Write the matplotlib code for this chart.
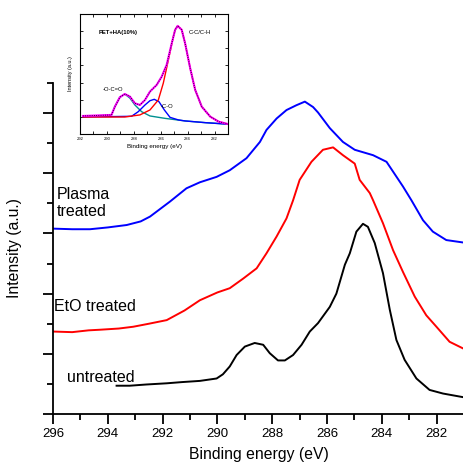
import matplotlib.pyplot as plt
from matplotlib.ticker import MultipleLocator

plt.rcParams["font.family"] = ["Liberation Sans", "DejaVu Sans"]

# Main spectra (binding energy in eV, intensity in arbitrary offset units)
untreated_x = [293.68, 293.2, 292.6, 291.85, 291.3, 290.64, 290.03, 289.80, 289.55, 289.30,
               289.0, 288.64, 288.33, 288.09, 287.79, 287.54, 287.24, 286.93, 286.63,
               286.33, 285.90, 285.66, 285.35, 285.17, 284.93, 284.69, 284.51, 284.26,
               283.96, 283.71, 283.47, 283.17, 282.74, 282.26, 281.77, 281.04]
untreated_y = [0.47, 0.47, 0.49, 0.51, 0.53, 0.55, 0.59, 0.66, 0.79, 0.98,
               1.12, 1.18, 1.15, 1.01, 0.89, 0.89, 0.98, 1.15, 1.37,
               1.51, 1.78, 2.00, 2.48, 2.67, 3.03, 3.16, 3.11, 2.84,
               2.34, 1.73, 1.23, 0.90, 0.59, 0.40, 0.34, 0.28]

eto_x = [296.0, 295.3, 294.7, 294.29, 293.6, 293.07, 292.5, 291.85, 291.2, 290.64,
         290.0, 289.55, 289.06, 288.57, 288.21, 287.84, 287.48, 287.24, 287.0, 286.57,
         286.15, 285.78, 285.42, 284.99, 284.81, 284.44, 284.32, 283.96, 283.59,
         283.23, 282.80, 282.38, 282.01, 281.53, 281.04]
eto_y = [1.37, 1.36, 1.39, 1.40, 1.42, 1.45, 1.50, 1.56, 1.72, 1.89,
         2.02, 2.09, 2.25, 2.42, 2.67, 2.95, 3.25, 3.55, 3.89, 4.19,
         4.39, 4.43, 4.30, 4.16, 3.89, 3.67, 3.55, 3.17, 2.72,
         2.36, 1.95, 1.64, 1.45, 1.20, 1.09]

plasma_x = [296.0, 295.3, 294.65, 294.0, 293.31, 292.8, 292.46, 291.73, 291.13, 290.64,
            290.03, 289.55, 288.94, 288.45, 288.21, 287.84, 287.48, 287.12, 286.81,
            286.51, 286.33, 285.90, 285.42, 284.99, 284.32, 283.83, 283.23, 282.92,
            282.50, 282.14, 281.65, 281.04]
plasma_y = [3.08, 3.07, 3.07, 3.10, 3.14, 3.20, 3.28, 3.53, 3.75, 3.85,
            3.94, 4.05, 4.25, 4.52, 4.72, 4.91, 5.05, 5.13, 5.19,
            5.10, 5.01, 4.75, 4.52, 4.39, 4.30, 4.19, 3.78, 3.55,
            3.22, 3.03, 2.89, 2.85]

# Inset: C1s fit of PET+HA(10%)
fit_x = [291.78, 289.66, 289.41, 289.04, 288.67, 288.29, 287.92, 287.55, 287.17, 286.80,
         286.30, 285.93, 285.56, 285.18, 284.93, 284.74, 284.44, 284.19, 283.81, 283.44,
         282.95, 282.32, 281.70, 280.96]
fit_y = [1.05, 1.11, 1.59, 2.14, 2.33, 2.18, 1.79, 1.69, 1.98, 2.47,
         2.86, 3.34, 4.03, 5.29, 6.07, 6.30, 6.07, 5.29, 3.83, 2.57,
         1.59, 1.01, 0.72, 0.57]

cc_x = [291.78, 288.67, 287.55, 286.80, 286.18, 285.81, 285.43, 285.06, 284.93, 284.74,
        284.44, 284.19, 283.81, 283.44, 282.95, 282.32, 281.70, 280.96]
cc_y = [0.99, 0.99, 1.11, 1.40, 1.98, 2.96, 4.32, 5.68, 6.07, 6.30,
        6.07, 5.29, 3.83, 2.57, 1.59, 1.01, 0.72, 0.57]

co_x = [291.78, 288.17, 287.67, 287.17, 286.80, 286.48, 286.13, 285.73, 285.31, 284.69,
        284.19, 282.69, 280.96]
co_y = [0.99, 1.03, 1.30, 1.69, 1.94, 2.02, 1.88, 1.40, 0.97, 0.82,
        0.76, 0.66, 0.57]

oco_x = [291.78, 289.66, 289.41, 289.04, 288.67, 288.29, 287.92, 287.42, 286.80, 285.68,
         284.19, 282.69, 280.96]
oco_y = [0.99, 1.11, 1.59, 2.14, 2.33, 2.09, 1.69, 1.30, 1.05, 0.91,
         0.76, 0.66, 0.57]

fig = plt.figure(figsize=(4.64, 4.62), dpi=100)
ax = fig.add_axes([0.1142, 0.1039, 0.886, 0.7165])

ax.plot(untreated_x, untreated_y, color='black', lw=1.4)
ax.plot(eto_x, eto_y, color='#ff0000', lw=1.4)
ax.plot(plasma_x, plasma_y, color='#0000ff', lw=1.4)

ax.set_xlim(296, 281)
ax.set_ylim(0, 5.5)
ax.xaxis.set_major_locator(MultipleLocator(2))
ax.xaxis.set_minor_locator(MultipleLocator(1))
ax.yaxis.set_major_locator(MultipleLocator(1))
ax.yaxis.set_minor_locator(MultipleLocator(0.5))
ax.set_yticklabels([])
ax.tick_params(which='major', direction='out', length=7, width=1.3, labelsize=9.5, pad=3)
ax.tick_params(which='minor', direction='out', length=4, width=1.3)
ax.spines['top'].set_visible(False)
ax.spines['right'].set_visible(False)
ax.spines['left'].set_linewidth(1.3)
ax.spines['bottom'].set_linewidth(1.3)

ax.set_xlabel("Binding energy (eV)", fontsize=11.3, labelpad=5)
ax.set_ylabel("Intensity (a.u.)", fontsize=11.3)
ax.yaxis.set_label_coords(-0.075, 0.5)

ax.text(295.85, 3.5, "Plasma\ntreated", fontsize=11.5, ha='left', va='center', linespacing=1.15)
ax.text(295.95, 1.79, "EtO treated", fontsize=11.5, ha='left', va='center')
ax.text(295.5, 0.6, "untreated", fontsize=11.5, ha='left', va='center')

# Inset
axin = fig.add_axes([0.1724, 0.710, 0.319, 0.260])
axin.plot(oco_x, oco_y, color='#009090', lw=1.0)
axin.plot(co_x, co_y, color='#0000ff', lw=1.0)
axin.plot(cc_x, cc_y, color='#ff0000', lw=1.0)
axin.plot(fit_x, fit_y, color='#ff00ff', lw=1.5)
axin.plot(fit_x, fit_y, color='black', lw=0.6, ls=':')
axin.set_xlim(292, 281)
axin.set_ylim(0, 7)
axin.xaxis.set_major_locator(MultipleLocator(2))
axin.xaxis.set_minor_locator(MultipleLocator(1))
axin.yaxis.set_major_locator(MultipleLocator(1))
axin.set_yticklabels([])
axin.tick_params(which='both', direction='in', top=True, right=True, length=2, width=0.6, labelsize=3, pad=2)
for s in axin.spines.values():
    s.set_linewidth(0.8)
axin.set_xlabel("Binding energy (eV)", fontsize=4.5, labelpad=2)
axin.set_ylabel("Intensity (a.u.)", fontsize=4, labelpad=3)
axin.text(290.6, 5.9, "PET+HA(10%)", fontsize=4.2, fontweight='bold', ha='left', va='center')
axin.text(283.9, 5.9, "C-C/C-H", fontsize=4.2, ha='left', va='center')
axin.text(290.3, 2.6, "-O-C=O", fontsize=4.2, ha='left', va='center')
axin.text(286.0, 1.6, "-C-O", fontsize=4.2, ha='left', va='center')

plt.savefig("out.png", dpi=100)
